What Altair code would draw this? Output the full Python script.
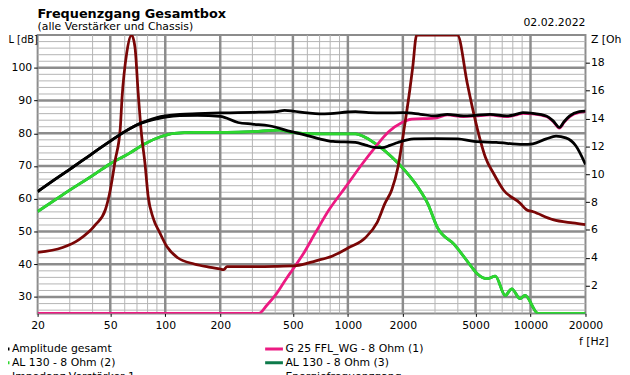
import altair as alt
import pandas as pd

FONT = "DejaVu Sans"

# ---------------- data ----------------
f_amp = [20, 25, 30, 40, 50, 60, 70, 80, 90, 100, 120, 150, 200, 250, 300, 400, 450, 500, 600,
         700, 800, 1000, 1100, 1300, 1600, 2000, 2500, 3000, 3500, 4300, 5000, 6000, 7400, 8500,
         9100, 10300, 12200, 13300, 14400, 15300, 16400, 18500, 20000]
amp = [62.2, 66.0, 69.0, 73.9, 77.6, 80.5, 82.6, 83.9, 84.8, 85.3, 85.8, 86.0, 86.2, 86.3, 86.4,
       86.6, 87.0, 86.8, 86.2, 85.9, 86.0, 86.5, 86.6, 86.3, 86.2, 86.3, 85.8, 85.3, 85.8, 85.3,
       85.5, 85.8, 85.3, 85.9, 86.3, 86.1, 85.3, 83.8, 81.8, 83.6, 85.3, 86.6, 86.8]

f_en = [20, 25, 30, 40, 50, 60, 70, 80, 90, 100, 120, 150, 200, 250, 300, 370, 490, 600, 700,
        830, 1100, 1250, 1400, 1540, 1700, 1880, 2300, 3000, 4000, 4900, 6500, 9100, 10300,
        12200, 13800, 15600, 17700, 20000]
en = [62.2, 66.0, 69.0, 73.9, 77.6, 80.5, 82.5, 83.7, 84.4, 84.9, 85.4, 85.5, 85.2, 83.3, 82.8,
      82.3, 80.5, 79.3, 78.3, 77.5, 77.2, 76.4, 75.7, 75.6, 76.3, 77.2, 78.3, 78.4, 78.3, 77.5,
      77.2, 76.6, 76.8, 78.3, 79.1, 78.6, 76.2, 70.5]

f_tw = [20, 200, 325, 360, 400, 460, 500, 560, 670, 790, 975, 1200, 1410, 1660, 1980, 2240,
        2980, 3500, 4300, 5000, 6000, 7400, 8500, 9100, 10300, 12200, 13300, 14400, 15300,
        16400, 18500, 20000]
tw = [25, 25, 25, 27.5, 30.5, 35.6, 38.5, 42.5, 50.0, 56.7, 63.7, 70.7, 75.7, 80.3, 83.3, 84.3,
      84.6, 85.6, 85.1, 85.3, 85.6, 85.1, 85.7, 86.1, 85.9, 85.1, 83.6, 81.6, 83.4, 85.1, 86.4,
      86.6]

f_wf = [20, 27.4, 41.5, 50, 62.8, 77.4, 95, 112, 144, 218, 300, 422, 490, 695, 1100, 1250,
        1465, 1745, 2050, 2410, 2730, 3100, 3820, 4700, 5110, 5780, 6420, 7270, 7890, 8770,
        9330, 11000, 20000]
wf = [56.1, 61.2, 67.7, 70.7, 73.7, 76.8, 79.0, 80.0, 80.3, 80.3, 80.5, 81.0, 80.3, 79.8, 79.8,
      78.7, 76.2, 72.7, 68.7, 63.7, 58.7, 51.1, 46.1, 39.6, 37.1, 35.6, 36.4, 30.5, 32.5, 29.5,
      30.5, 25, 25]

# second AL 130 is identical and lies completely under the first one
f_wf3 = f_wf
wf3 = wf

f_z = [20, 27.4, 33.7, 41.5, 47, 50, 53.2, 56.7, 58, 61.5, 65.4, 68.3, 71.1, 74.2, 77.4, 80.6,
       85.8, 93.3, 102, 117, 144, 177, 200, 209, 218, 280, 400, 521, 668, 824, 1012, 1247,
       1442, 1598, 1738, 1880, 2050, 2180, 2265, 2380, 3980, 4510, 4900, 5320, 5670, 6280,
       7110, 8770, 9510, 10350, 13270, 17020, 20000]
z = [4.38, 4.73, 5.3, 6.38, 7.45, 8.87, 11.0, 13.3, 15.5, 18.7, 20.0, 19.1, 15.8, 12.8, 10.8,
     8.4, 6.86, 5.8, 4.8, 4.0, 3.55, 3.31, 3.19, 3.14, 3.36, 3.36, 3.38, 3.43, 3.78, 4.13, 4.73,
     5.44, 6.5, 7.92, 8.87, 10.5, 13.6, 16.0, 17.7, 20.0, 20.0, 16.5, 14.3, 12.4, 11.2, 10.05,
     8.87, 7.92, 7.45, 7.3, 6.74, 6.5, 6.38]

S_AMP = "Amplitude gesamt"
S_TW = "G 25 FFL_WG - 8 Ohm (1)"
S_WF2 = "AL 130 - 8 Ohm (2)"
S_WF3 = "AL 130 - 8 Ohm (3)"
S_Z = "Impedanz Verstärker 1"
S_EN = "Energiefrequenzgang"
# legend is filled column by column: left column first, then right column
legend_order = [S_AMP, S_WF2, S_Z, S_TW, S_WF3, S_EN]
legend_colors = ["#000000", "#2ed82e", "#7a0606", "#ec1a82", "#0d7a4a", "#000000"]

x_ticks = [20, 50, 100, 200, 500, 1000, 2000, 5000, 10000, 20000]
x_major_grid = [50, 100, 200, 500, 1000, 2000, 5000, 10000]
x_minor_grid = [30, 40, 60, 70, 80, 90, 300, 400, 600, 700, 800, 900,
                3000, 4000, 6000, 7000, 8000, 9000]
db_ticks = [30, 40, 50, 60, 70, 80, 90, 100]
db_major_grid = [30, 40, 50, 60, 70, 80, 90, 100]
db_minor_grid = [26, 28, 32, 34, 36, 38, 42, 44, 46, 48, 52, 54, 56, 58, 62, 64, 66, 68,
                 72, 74, 76, 78, 82, 84, 86, 88, 92, 94, 96, 98, 102, 104, 106, 108]
z_ticks = [2, 4, 6, 8, 10, 12, 14, 16, 18]

title_text = "Frequenzgang Gesamtbox"
subtitle_text = "(alle Verstärker und Chassis)"
date_text = "02.02.2022"

# ---------------- chart ----------------
W, H = 555, 282
x_scale = alt.Scale(type="log", domain=[20, 20000], nice=False)
y_db = alt.Scale(domain=[25, 110], nice=False, zero=False)
y_z = alt.Scale(domain=[0, 20], nice=False, zero=False)
color_scale = alt.Scale(domain=legend_order, range=legend_colors)

legend = alt.Legend(
    orient="none", legendX=-48, legendY=311, columns=2, title=None,
    symbolType="stroke", symbolSize=324, symbolStrokeWidth=3,
    labelFont=FONT, labelFontSize=11, labelColor="#000000", labelOffset=1,
    columnPadding=130, rowPadding=0, clipHeight=14, padding=0, labelLimit=300,
)

y_axis_left = alt.Axis(values=db_ticks, grid=False, domain=False, tickColor="#000000",
                       tickSize=4, labelPadding=2, title="L [dB]", titleAngle=0,
                       titleAlign="left", titleBaseline="middle", titleX=-30, titleY=5,
                       titleFontSize=10, titleFontWeight="normal")
y_axis_right = alt.Axis(orient="right", values=z_ticks, grid=False, domain=False,
                        tickColor="#000000", tickSize=4, labelPadding=1, title="Z [Ohm]",
                        titleAngle=0, titleAlign="left", titleBaseline="middle", titleX=5,
                        titleY=5, titleFontWeight="normal")
x_axis = alt.Axis(values=x_ticks, format="d", grid=False, domain=False, tickColor="#000000",
                  tickSize=3, labelPadding=3, labelFlush=False, labelOverlap=False,
                  title="f [Hz]", titleX=W + 8, titleY=23, titleAlign="center",
                  titleFontWeight="normal")


def frame(name, f, v):
    return pd.DataFrame({"f": f, "v": v, "series": name})


def line(df, scale, axis):
    return alt.Chart(df).mark_line(strokeWidth=2.8, interpolate="monotone", clip=True).encode(
        x=alt.X("f:Q", scale=x_scale, axis=x_axis),
        y=alt.Y("v:Q", scale=scale, axis=axis),
        color=alt.Color("series:N", scale=color_scale, legend=legend),
    )


gx_minor = alt.Chart(pd.DataFrame({"f": x_minor_grid})).mark_rule(
    color="#b4b4b4", strokeWidth=1).encode(x=alt.X("f:Q", scale=x_scale, axis=x_axis))
gx_major = alt.Chart(pd.DataFrame({"f": x_major_grid})).mark_rule(
    color="#8c8c8c", strokeWidth=2.5).encode(x=alt.X("f:Q", scale=x_scale, axis=x_axis))
gy_minor = alt.Chart(pd.DataFrame({"v": db_minor_grid})).mark_rule(
    color="#b4b4b4", strokeWidth=1).encode(y=alt.Y("v:Q", scale=y_db, axis=y_axis_left))
gy_major = alt.Chart(pd.DataFrame({"v": db_major_grid})).mark_rule(
    color="#8c8c8c", strokeWidth=2.5).encode(y=alt.Y("v:Q", scale=y_db, axis=y_axis_left))

date_mark = alt.Chart(pd.DataFrame({"t": [date_text]})).mark_text(
    align="right", baseline="alphabetic", font=FONT, fontSize=11, color="#000000"
).encode(text="t:N", x=alt.value(W), y=alt.value(-9))
title_mark = alt.Chart(pd.DataFrame({"t": [title_text]})).mark_text(
    align="left", baseline="alphabetic", font=FONT, fontSize=13, fontWeight="bold",
    color="#000000"
).encode(text="t:N", x=alt.value(0), y=alt.value(-17))
subtitle_mark = alt.Chart(pd.DataFrame({"t": [subtitle_text]})).mark_text(
    align="left", baseline="alphabetic", font=FONT, fontSize=11, color="#000000"
).encode(text="t:N", x=alt.value(0), y=alt.value(-5))

layer_a = alt.layer(
    gx_minor, gy_minor, gx_major, gy_major,
    line(frame(S_WF3, f_wf3, wf3), y_db, y_axis_left),
    line(frame(S_WF2, f_wf, wf), y_db, y_axis_left),
    line(frame(S_TW, f_tw, tw), y_db, y_axis_left),
    date_mark, title_mark, subtitle_mark,
)
layer_b = line(frame(S_Z, f_z, z), y_z, y_axis_right)
layer_c = alt.layer(
    line(frame(S_EN, f_en, en), y_db, None),
    line(frame(S_AMP, f_amp, amp), y_db, None),
)

chart = alt.layer(layer_a, layer_b, layer_c).resolve_scale(y="independent").properties(
    width=W, height=H,
    autosize=alt.AutoSizeParams(type="none"),
    padding={"left": 30, "top": 25, "right": 37, "bottom": 60},
).configure_view(stroke="#8c8c8c", strokeWidth=2).configure_axis(
    labelFont=FONT, labelFontSize=11, labelColor="#000000",
    titleFont=FONT, titleFontSize=11, titleColor="#000000",
)

chart.save("out.html", embed_options={"renderer": "svg", "actions": False})
